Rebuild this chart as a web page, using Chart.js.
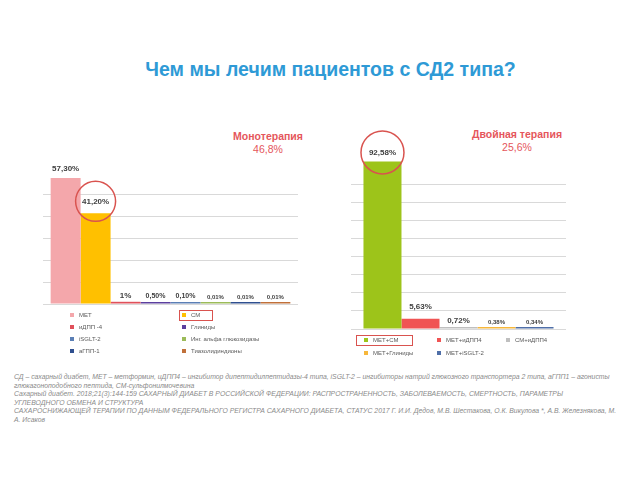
<!DOCTYPE html>
<html>
<head>
<meta charset="utf-8">
<script src="https://cdn.jsdelivr.net/npm/chart.js@4/dist/chart.umd.min.js"></script>
<style>
  body { margin: 0; width: 640px; height: 480px; background: #fff; position: relative; overflow: hidden;
         font-family: "Liberation Sans", Arial, sans-serif; }
  .abs { position: absolute; }
  #title { left: 0; width: 661px; top: 58px; text-align: center; font-weight: bold; font-size: 19.5px; color: #2E9AD6; }
  .sub { color: #E5565C; text-align: center; font-size: 10.5px; line-height: 13px; }
  .sub b { display: block; }
  .leg { font-size: 6px; color: #595959; white-space: nowrap; line-height: 8px; }
  .mark { width: 4px; height: 4px; }
  .hl { border: 1px solid #D9534F; box-sizing: border-box; }
  #notes { left: 14px; top: 373px; font-size: 6.85px; line-height: 8.6px; color: #8A8A8A; font-style: italic; white-space: nowrap; }
</style>
</head>
<body>
<div id="title" class="abs">Чем мы лечим пациентов с СД2 типа?</div>

<div class="abs sub" style="left:218px;top:130px;width:100px;"><b>Монотерапия</b>46,8%</div>
<div class="abs sub" style="left:457px;top:128px;width:120px;"><b>Двойная терапия</b>25,6%</div>

<div class="abs" style="left:30px;top:125px;width:280px;height:193px;"><canvas id="mono"></canvas></div>
<div class="abs" style="left:330px;top:125px;width:260px;height:219px;"><canvas id="dual"></canvas></div>

<div id="legMono"></div>
<div id="legDual"></div>
<div class="abs hl" style="left:179px;top:310px;width:34px;height:11px;"></div>
<div class="abs hl" style="left:356px;top:335px;width:57px;height:11px;"></div>

<div id="notes" class="abs">
  <div>СД – сахарный диабет, МЕТ – метформин, иДПП4 – ингибитор дипептидилпептидазы-4 типа, iSGLT-2 – ингибиторы натрий глюкозного транспортера 2 типа, аГПП1 – агонисты</div>
  <div>глюкагоноподобного пептида, СМ-сульфонилмочевина</div>
  <div>Сахарный диабет. 2018;21(3):144-159 САХАРНЫЙ ДИАБЕТ В РОССИЙСКОЙ ФЕДЕРАЦИИ: РАСПРОСТРАНЕННОСТЬ, ЗАБОЛЕВАЕМОСТЬ, СМЕРТНОСТЬ, ПАРАМЕТРЫ</div>
  <div>УГЛЕВОДНОГО ОБМЕНА И СТРУКТУРА</div>
  <div>САХАРОСНИЖАЮЩЕЙ ТЕРАПИИ ПО ДАННЫМ ФЕДЕРАЛЬНОГО РЕГИСТРА САХАРНОГО ДИАБЕТА, СТАТУС 2017 Г. И.И. Дедов, М.В. Шестакова, О.К. Викулова *, А.В. Железнякова, М.</div>
  <div>А. Исаков</div>
</div>

<script>
// Monotherapy series
const monoNames = ['МЕТ', 'СМ', 'иДПП -4', 'Глиниды', 'iSGLT-2', 'Инг. альфа глюкозидазы', 'аГПП-1', 'Тиазолидиндионы'];
const monoValues = [57.3, 41.2, 1, 0.5, 0.1, 0.01, 0.01, 0.01];
const monoColors = ['#F4A7AB', '#FFC000', '#E0505A', '#5B3F9E', '#5B7FB5', '#9BBB59', '#2F4F8F', '#C0703A'];

// Dual therapy series
const dualNames = ['МЕТ+СМ', 'МЕТ+иДПП4', 'СМ+иДПП4', 'МЕТ+Глиниды', 'МЕТ+iSGLT-2'];
const dualValues = [92.58, 5.63, 0.72, 0.38, 0.34];
const dualColors = ['#9DC41A', '#F05454', '#BFBFBF', '#F6B73C', '#4F6FA8'];

const fmt = v => Number.isInteger(v) ? v + '%' : v.toFixed(2).replace('.', ',') + '%';

// values above bars + red ring round the highlighted one
const barLabels = {
    id: 'barLabels',
    afterDatasetsDraw(chart, args, opts) {
        const ctx = chart.ctx;
        chart.data.datasets.forEach((ds, i) => {
            const bar = chart.getDatasetMeta(i).data[0];
            const size = opts.sizes[i];
            const bottom = bar.y - opts.gaps[i];
            ctx.save();
            ctx.font = `bold ${size}px "Liberation Sans", Arial`;
            ctx.fillStyle = '#404040';
            ctx.textAlign = 'center';
            ctx.textBaseline = 'bottom';
            ctx.fillText(fmt(ds.data[0]), bar.x, bottom);
            if (i === opts.ring) {
                ctx.beginPath();
                ctx.arc(bar.x, bottom - size / 2, opts.radius, 0, Math.PI * 2);
                ctx.strokeStyle = '#D9534F';
                ctx.lineWidth = 1.5;
                ctx.stroke();
            }
            ctx.restore();
        });
    }
};

function makeChart(id, names, values, colors, cfg) {
    return new Chart(document.getElementById(id), {
        type: 'bar',
        data: {
            labels: [''],
            datasets: names.map((n, i) => ({
                label: n,
                data: [values[i]],
                backgroundColor: colors[i],
                minBarLength: 2
            }))
        },
        options: {
            responsive: true,
            maintainAspectRatio: false,
            animation: false,
            layout: { padding: cfg.padding },
            datasets: { bar: { categoryPercentage: cfg.catPct, barPercentage: 1 } },
            plugins: {
                legend: { display: false },
                tooltip: { enabled: false },
                barLabels: cfg.labels
            },
            scales: {
                x: { ticks: { display: false }, grid: { display: false }, border: { display: false } },
                y: {
                    min: 0, max: cfg.max,
                    ticks: { display: false, stepSize: 10 },
                    grid: {
                        drawTicks: false,
                        color: c => c.tick.value <= cfg.gridTop ? '#D9D9D9' : 'rgba(0,0,0,0)'
                    },
                    border: { display: false }
                }
            }
        },
        plugins: [barLabels]
    });
}

makeChart('mono', monoNames, monoValues, monoColors, {
    padding: { left: 13, right: 12, top: 25, bottom: 6 },
    catPct: 0.94, max: 70, gridTop: 50,
    labels: { sizes: [8, 8, 8, 7, 7, 6, 6, 6], gaps: [5, 8, 2, 2, 2, 2, 2, 2], ring: 1, radius: 20 }
});

makeChart('dual', dualNames, dualValues, dualColors, {
    padding: { left: 21, right: 24, top: 23, bottom: 7 },
    catPct: 0.884, max: 100, gridTop: 80,
    labels: { sizes: [8, 8, 8, 6, 6], gaps: [5, 8, 2, 2, 2], ring: 0, radius: 21.5 }
});

// legends laid out row by row, as in the slide
function buildLegend(hostId, names, colors, colX, rowY) {
    const host = document.getElementById(hostId);
    names.forEach((n, i) => {
        const x = colX[i % colX.length];
        const y = rowY[Math.floor(i / colX.length)];
        host.insertAdjacentHTML('beforeend',
            `<div class="abs mark" style="left:${x - 2}px;top:${y - 2}px;background:${colors[i]}"></div>` +
            `<div class="abs leg" style="left:${x + 7}px;top:${y - 4}px">${n}</div>`);
    });
}
buildLegend('legMono', monoNames, monoColors, [72, 184], [315, 327, 339, 351]);
buildLegend('legDual', dualNames, dualColors, [366, 439, 508], [340, 353]);
</script>
</body>
</html>
